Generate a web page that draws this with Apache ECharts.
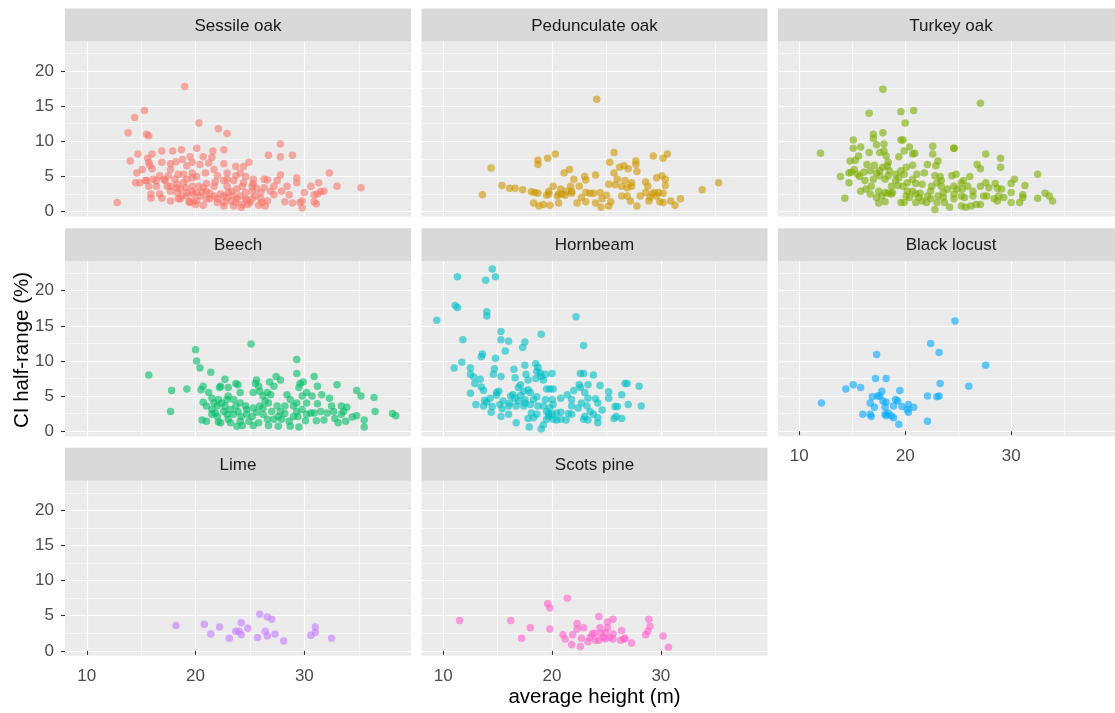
<!DOCTYPE html>
<html>
<head>
<meta charset="utf-8">
<script src="https://cdn.jsdelivr.net/npm/echarts@6/dist/echarts.min.js"></script>
<style>
  html, body { margin: 0; padding: 0; background: #ffffff; }
  #chart { width: 1115px; height: 713px; }
</style>
</head>
<body>
<div id="chart"></div>
<script>
// Average stand height (m) vs. CI half-range (%) per tree species, [height, halfRange]
const sessileOak = [
  [19.0,17.8],[15.3,14.4],[14.4,13.4],[20.3,12.6],[13.8,11.2],[22.1,11.8],[22.9,11.1],[15.5,11.0],[15.7,10.8],
  [27.8,9.6],[26.7,8.0],[27.8,7.8],[28.9,8.0],[32.3,5.5],[33.0,3.6],[35.2,3.4],[12.8,1.3],
  [14.7,8.2],[14.0,7.2],[16.9,8.6],[17.9,8.6],[18.7,8.8],[20.1,9.0],[21.6,8.6],[22.6,8.8],[15.6,7.6],[16.0,8.2],
  [15.7,7.0],[15.8,6.6],[16.0,6.1],[16.9,7.0],[17.7,6.8],[18.2,7.1],[18.8,7.4],[19.5,7.8],[19.7,7.0],[19.2,6.5],
  [20.7,7.8],[21.5,7.7],[20.4,6.7],[21.2,6.9],[22.6,6.8],[23.7,6.4],[24.4,6.4],[24.9,7.0],[15.1,6.0],[14.6,5.5],
  [14.5,4.1],[14.9,4.1],[15.5,4.4],[16.1,4.6],[16.7,5.1],[17.1,4.6],[17.5,5.1],[17.7,6.0],[18.4,5.3],[18.9,5.3],
  [19.7,5.5],[20.1,5.0],[20.9,5.5],[21.7,6.0],[22.9,5.5],[23.7,5.1],[24.1,5.5],[24.6,5.0],[27.8,5.2],[29.3,4.8],
  [27.5,4.4],[26.3,4.6],[25.3,4.0],[24.4,4.1],[23.5,4.4],[22.6,4.4],[21.8,4.2],[21.0,4.0],[20.3,3.6],[19.7,3.6],
  [18.9,4.1],[18.3,3.9],[17.4,3.6],[16.4,3.6],[15.7,3.6],[15.9,2.5],[15.9,1.9],[16.9,1.9],[17.7,1.5],[18.3,2.7],
  [18.7,2.2],[19.2,2.7],[19.8,2.5],[20.4,2.2],[21.0,2.9],[21.7,2.2],[22.3,2.5],[23.0,2.7],[23.8,3.2],[24.6,2.7],
  [25.2,2.9],[26.0,2.7],[26.9,2.9],[27.9,2.9],[28.6,2.4],[29.3,4.1],[28.4,3.6],[30.6,3.6],[31.3,4.1],[27.2,2.4],
  [30.0,2.7],[30.9,2.4],[31.5,2.8],[31.8,2.9],[31.2,2.5],[30.9,1.4],[31.1,1.1],[29.8,1.5],[29.6,1.3],[29.8,0.5],
  [28.9,1.2],[28.2,1.4],[26.4,0.8],[25.8,0.9],[25.0,1.3],[24.3,1.0],[24.2,0.6],[23.5,0.8],[22.6,0.8],[22.0,1.3],
  [20.7,0.9],[20.0,1.0],[19.8,1.5],[19.4,1.4],[18.6,1.8],[21.3,1.8],[26.0,1.8],[25.5,2.2],[23.2,1.5],[23.8,1.8],
  [24.7,1.6],[26.6,1.5],[22.6,2.2],[16.7,2.5],[17.7,2.9],[17.2,4.4],[18.1,4.6],[19.2,4.6],[19.7,4.8],[22.0,5.1],
  [22.9,4.6],[25.3,4.6],[26.6,4.5],[27.2,3.6],[24.3,3.6],[25.2,3.6],[22.9,3.6],[20.1,2.7],[21.0,1.8],[22.0,1.8],
  [18.4,1.8],[19.2,2.2],[19.5,1.3],[20.1,1.5],[15.4,4.4],[16.4,4.4],[17.7,3.6],[18.3,3.4],[18.6,3.2],[19.1,3.4],
  [19.7,2.9],[20.7,3.4],[21.7,3.6],[23.3,2.9],[25.6,3.3],[26.3,3.4],[24.6,1.8],[24.1,2.2],[22.9,2.0],[23.5,2.2],
  [25.2,1.8],[26.1,1.3],[24.8,1.0],[23.7,1.3],[22.6,1.3],[21.3,2.6],[20.6,2.7]
];
const pedunculateOak = [
  [24.1,16.0],[14.4,6.2],[13.6,2.4],[15.4,3.7],[16.1,3.3],[16.6,3.3],[17.3,3.1],[18.7,7.3],[18.7,6.7],[19.6,7.6],
  [20.3,8.2],[21.1,5.5],[21.6,6.0],[22.0,4.6],[23.0,5.0],[23.1,4.5],[24.0,5.2],[22.5,3.6],[21.7,3.6],[20.8,3.2],
  [20.1,3.6],[19.7,2.9],[19.5,2.3],[18.1,2.8],[18.4,2.7],[18.7,2.6],[18.3,1.2],[18.8,0.8],[19.2,1.0],[19.8,0.9],
  [20.6,1.2],[20.5,2.2],[20.9,2.5],[21.3,2.9],[21.8,2.9],[22.3,1.2],[22.7,2.0],[23.1,1.4],[23.1,2.7],[23.5,2.6],
  [23.8,2.6],[24.4,2.7],[24.0,1.2],[24.5,0.6],[24.6,1.8],[25.0,2.3],[25.2,0.8],[25.4,1.4],[25.2,3.9],[25.3,7.0],
  [25.7,8.4],[25.7,5.5],[25.8,3.8],[26.0,4.6],[26.2,6.3],[26.6,6.5],[27.0,6.1],[27.7,7.2],[27.7,6.7],[27.8,5.7],
  [26.7,4.4],[27.3,3.6],[26.9,3.4],[26.4,2.2],[26.9,2.2],[27.2,1.5],[27.8,0.8],[28.1,2.2],[28.6,4.2],[28.8,3.6],
  [28.6,2.7],[28.9,1.5],[29.3,7.9],[30.2,7.6],[30.6,8.2],[29.6,4.8],[30.1,5.1],[30.4,4.6],[30.4,3.7],[29.4,2.7],
  [29.8,2.7],[30.2,2.6],[29.6,2.2],[29.9,1.4],[30.2,1.3],[30.9,1.5],[31.3,0.9],[31.8,1.8],[33.8,3.1],[35.3,4.1],
  [29.2,2.5],[29.0,2.0],[26.4,3.6],[27.3,4.1],[19.7,2.5],[20.6,2.5],[21.2,2.3],[21.8,2.6]
];
const turkeyOak = [
  [17.9,17.4],[27.1,15.4],[16.6,14.0],[19.6,14.2],[20.8,14.4],[20.0,12.6],[12.0,8.3],[17.9,11.2],[17.0,11.0],
  [17.0,10.4],[15.1,10.2],[15.1,9.0],[15.8,9.2],[17.3,9.5],[18.0,9.6],[16.6,8.4],[17.6,8.4],[18.0,8.6],[18.2,7.9],
  [15.6,7.9],[14.8,7.2],[15.3,7.3],[16.4,6.7],[17.1,6.6],[17.9,6.3],[18.4,7.0],[18.3,6.5],[19.4,7.8],[19.6,10.2],
  [19.8,10.2],[19.9,8.6],[20.4,9.2],[20.7,8.2],[20.9,8.3],[22.6,9.3],[22.6,8.2],[23.1,7.2],[22.9,6.5],[22.1,6.7],
  [24.6,9.0],[24.6,9.0],[26.8,6.7],[27.1,6.1],[27.6,8.2],[29.0,7.6],[29.0,6.3],[32.5,5.3],[31.3,3.7],[30.3,4.6],
  [30.0,4.0],[30.0,2.7],[31.1,2.4],[31.1,2.0],[30.8,1.3],[30.0,1.3],[32.5,1.9],[33.2,2.6],[33.6,2.2],[33.9,1.5],
  [13.9,5.0],[14.7,5.5],[14.7,4.1],[14.3,1.9],[15.2,6.0],[15.5,5.3],[15.7,5.0],[16.1,5.6],[16.2,4.4],[16.3,3.2],
  [16.8,3.6],[17.0,4.6],[17.3,5.5],[17.6,5.1],[18.1,4.6],[18.4,5.1],[17.5,2.9],[17.8,2.2],[18.1,2.7],[18.4,2.6],
  [17.3,2.0],[17.5,1.2],[18.1,1.4],[18.7,2.5],[19.1,4.4],[19.4,4.8],[19.9,5.3],[19.6,5.8],[20.1,6.3],[20.7,6.6],
  [19.3,3.7],[19.8,3.6],[20.2,4.1],[20.7,4.6],[21.1,5.3],[21.0,4.0],[21.6,3.9],[21.8,5.5],[20.1,2.2],[20.4,2.0],
  [19.9,1.3],[19.6,1.3],[21.0,2.5],[21.3,2.0],[21.6,1.5],[22.1,2.2],[22.4,2.9],[22.5,3.6],[22.8,5.1],[23.3,5.0],
  [23.0,4.1],[23.4,3.6],[23.6,2.7],[23.1,2.2],[22.8,0.3],[23.0,1.3],[23.7,1.3],[24.2,0.6],[24.4,5.1],[24.8,5.3],
  [24.6,3.6],[24.9,3.2],[24.6,2.5],[25.3,4.1],[25.5,4.4],[25.4,3.2],[25.3,2.2],[25.6,2.0],[25.3,0.8],[25.7,0.6],
  [26.2,0.8],[26.7,1.0],[27.1,1.0],[26.1,5.0],[25.9,3.6],[26.4,2.2],[27.1,3.6],[27.6,4.1],[27.4,2.2],[27.7,2.2],
  [27.9,3.4],[28.5,4.0],[28.7,3.3],[28.8,2.2],[29.1,3.2],[29.3,2.0],[28.7,1.5],[28.4,1.8],[21.0,1.3],[21.4,2.6],
  [20.7,2.9],[20.2,2.9],[18.7,3.6],[16.7,2.5],[15.8,2.9],[14.9,5.6],[23.4,4.4],[24.0,3.2],[26.4,2.9],[24.6,1.8],
  [23.6,2.0],[22.4,1.8],[22.0,1.3],[18.8,2.7],[19.1,5.3],[18.5,5.8],[17.6,5.8],[16.7,5.8]
];
const beech = [
  [25.1,12.4],[20.0,11.6],[20.1,10.0],[20.4,9.0],[21.4,8.4],[29.3,10.2],[29.3,8.2],[15.7,8.0],[17.8,5.8],[19.2,6.0],
  [17.7,2.8],[20.6,1.6],[20.7,6.4],[20.5,5.9],[21.2,5.5],[21.5,4.7],[20.7,4.1],[21.0,3.6],[21.5,3.1],[21.8,2.6],
  [22.0,2.1],[22.1,1.3],[22.3,6.4],[22.2,6.2],[22.7,7.4],[23.0,6.2],[23.7,6.8],[23.9,6.6],[24.1,5.5],[23.5,4.5],
  [23.0,5.0],[22.4,4.0],[22.7,3.6],[23.2,3.1],[23.7,3.6],[24.1,4.0],[24.6,3.6],[23.5,2.4],[23.0,1.7],[23.2,1.2],
  [24.1,1.4],[24.3,0.8],[24.9,1.4],[25.3,0.8],[24.7,2.4],[25.2,2.1],[25.6,2.7],[25.6,7.3],[25.5,6.8],[25.8,6.4],
  [25.3,5.5],[25.9,5.7],[26.2,5.0],[26.6,5.5],[26.4,4.3],[26.7,4.0],[26.9,5.2],[26.8,7.0],[27.2,6.4],[27.4,7.8],
  [27.8,7.3],[25.9,3.6],[26.2,2.4],[26.6,1.7],[26.7,0.8],[27.2,1.7],[27.6,0.7],[27.6,2.1],[27.0,2.8],[27.9,1.7],
  [28.2,2.5],[28.2,3.6],[28.4,5.2],[28.7,4.5],[28.6,1.4],[28.7,0.7],[29.0,3.6],[29.3,4.0],[29.4,2.1],[29.5,0.6],
  [29.5,6.2],[29.6,6.8],[29.9,7.0],[29.8,5.0],[30.2,5.5],[30.2,4.0],[30.1,1.5],[30.7,5.0],[30.9,7.8],[31.2,6.4],
  [30.6,2.6],[31.1,1.5],[31.2,3.9],[31.6,5.2],[31.8,1.6],[32.1,2.6],[32.3,4.7],[32.5,3.6],[33.0,6.6],[32.8,1.8],
  [33.1,1.2],[33.4,3.6],[33.4,2.4],[33.8,1.4],[33.9,3.4],[34.4,2.0],[34.8,5.8],[34.8,2.2],[35.2,5.0],[35.5,1.6],
  [35.5,0.6],[36.4,4.8],[36.5,2.8],[38.1,2.5],[38.4,2.2],[21.5,2.4],[22.0,3.6],[22.6,2.8],[22.9,2.4],[23.9,2.8],
  [24.2,2.1],[24.7,3.1],[25.3,3.3],[27.5,3.6],[27.8,2.8],[29.3,2.8],[29.8,3.1],[30.9,2.6],[31.5,2.8],[32.7,2.8],
  [33.6,2.8],[21.0,1.4],[22.3,1.2],[23.8,0.7],[25.8,1.2],[21.7,4.0],[22.1,4.5],[22.9,4.5],[26.2,3.3],[29.0,2.1],
  [30.2,2.4]
];
const hornbeam = [
  [14.5,23.1],[11.3,22.0],[14.8,22.0],[13.9,21.5],[11.1,17.9],[11.3,17.6],[14.0,17.0],[14.0,16.4],[9.4,15.8],
  [22.2,16.3],[15.3,14.2],[19.0,13.8],[11.8,13.0],[15.3,13.0],[16.0,12.8],[17.5,12.7],[17.3,11.9],[22.9,12.2],
  [15.7,11.4],[13.6,11.0],[13.5,10.6],[14.8,10.4],[11.7,9.8],[11.0,9.0],[12.5,9.0],[14.7,8.9],[12.5,8.1],[12.8,7.7],
  [13.4,7.4],[12.9,6.8],[13.5,6.3],[13.7,5.8],[12.5,5.4],[14.6,8.1],[15.3,7.8],[16.5,8.8],[17.5,9.4],[18.5,9.6],
  [18.7,9.1],[18.6,8.5],[18.9,8.3],[19.0,7.8],[20.0,8.2],[19.4,8.1],[16.6,7.6],[17.6,8.1],[17.8,7.3],[17.1,6.6],
  [16.9,6.2],[17.4,5.7],[17.8,5.9],[18.5,7.5],[19.2,7.3],[19.5,6.0],[19.8,6.0],[20.1,6.0],[15.1,5.7],[14.9,5.1],
  [14.3,4.7],[13.8,4.4],[13.7,3.6],[14.0,4.1],[13.0,3.8],[14.5,3.5],[14.4,2.7],[15.3,2.1],[15.4,3.2],[16.0,2.4],
  [15.5,4.3],[16.1,4.0],[16.4,5.2],[16.6,4.7],[16.9,4.3],[16.7,3.6],[16.2,5.0],[17.1,5.1],[17.5,4.5],[17.4,3.6],
  [18.0,5.5],[18.3,4.5],[18.6,4.9],[18.7,3.6],[18.1,2.6],[17.8,1.8],[18.3,1.9],[16.7,1.2],[17.9,0.6],[19.0,0.3],
  [19.2,0.9],[19.5,1.7],[19.7,2.4],[19.5,2.8],[19.8,3.3],[20.1,3.8],[20.4,2.6],[20.4,1.6],[20.8,4.7],[20.8,2.7],
  [21.3,1.6],[21.5,2.5],[21.4,5.2],[21.8,4.5],[21.8,3.6],[22.0,5.8],[22.5,6.6],[22.6,6.2],[22.6,8.2],[22.9,8.2],
  [23.8,8.0],[23.3,6.6],[23.0,5.5],[22.7,4.0],[23.2,3.6],[23.3,4.7],[24.0,4.6],[24.2,4.0],[23.5,2.8],[23.0,2.1],
  [23.3,1.6],[23.8,2.4],[24.2,1.9],[24.2,1.2],[22.9,1.7],[24.4,6.5],[24.6,3.0],[25.2,5.6],[25.2,4.7],[25.8,3.5],
  [26.0,3.5],[25.9,2.1],[25.7,1.8],[26.4,1.8],[26.4,5.2],[26.7,6.8],[26.9,6.8],[27.0,3.8],[28.0,6.4],[28.2,3.6],
  [19.2,3.6],[19.4,4.5],[20.0,4.5],[16.0,3.6],[15.2,3.8],[21.8,2.4],[20.8,1.7],[17.5,4.0],[18.0,3.8],[18.6,2.4],
  [20.0,2.4],[19.7,2.1],[20.1,1.7],[22.4,3.3],[14.9,5.5]
];
const blackLocust = [
  [12.1,4.0],[14.4,6.0],[15.1,6.6],[15.8,6.2],[16.0,2.4],[16.7,2.4],[16.8,2.1],[16.7,4.0],[16.9,4.9],[17.1,3.4],
  [17.2,7.5],[17.3,10.9],[17.4,5.0],[17.6,5.0],[17.8,5.7],[17.9,4.3],[18.1,3.4],[18.2,4.1],[18.2,7.5],[18.1,2.4],
  [18.2,2.2],[18.4,2.6],[18.7,2.2],[18.9,1.9],[18.9,3.6],[19.1,4.5],[19.3,4.3],[19.4,1.0],[19.5,5.8],[19.7,3.5],
  [20.3,3.8],[20.3,2.7],[20.8,3.4],[20.2,3.1],[22.1,5.0],[22.1,1.4],[22.4,12.5],[23.0,4.9],[23.2,5.0],[23.2,11.2],
  [23.3,6.8],[24.7,15.7],[26.0,6.4],[27.6,9.4]
];
const lime = [
  [18.2,3.6],[20.8,3.8],[21.4,2.4],[22.2,3.4],[23.1,1.8],[23.7,2.8],[24.0,2.8],[24.2,4.0],[24.2,2.3],[24.8,3.2],
  [25.7,1.9],[25.9,5.2],[26.4,2.8],[26.6,4.8],[26.6,2.1],[27.0,4.5],[27.3,2.4],[28.1,1.4],[30.6,2.2],[31.0,3.4],
  [31.0,2.6],[32.5,1.8]
];
const scotsPine = [
  [11.5,4.3],[16.2,4.3],[17.2,1.8],[18.0,3.3],[19.6,6.7],[19.8,6.1],[19.8,3.1],[21.4,7.5],[21.0,2.3],[21.2,1.7],
  [21.8,0.9],[21.9,2.3],[22.3,3.9],[22.3,3.1],[22.6,0.6],[22.7,1.8],[22.9,3.3],[23.3,1.3],[23.5,1.9],[23.7,2.4],
  [23.9,2.5],[24.3,4.9],[24.3,1.5],[24.4,3.3],[24.5,2.5],[24.7,1.9],[24.9,1.7],[24.9,2.6],[25.1,3.3],[25.1,4.1],
  [25.3,1.9],[25.6,4.5],[25.6,2.4],[25.6,1.7],[26.3,1.5],[26.4,2.9],[26.6,1.7],[26.7,1.8],[27.3,1.1],[28.6,2.3],
  [28.8,2.8],[28.9,4.5],[29.0,3.5],[30.2,2.1],[30.7,0.5],[24.0,1.5]
];

const speciesNames = ['Sessile oak', 'Pedunculate oak', 'Turkey oak', 'Beech', 'Hornbeam', 'Black locust', 'Lime', 'Scots pine'];
const speciesData = [sessileOak, pedunculateOak, turkeyOak, beech, hornbeam, blackLocust, lime, scotsPine];
const speciesColors = ['#F8766D', '#CD9600', '#7CAE00', '#00BE67', '#00BFC4', '#00A9FF', '#C77CFF', '#FF61CC'];

const xBreaks = [10, 20, 30];
const xMinorBreaks = [15, 25, 35];
const yBreaks = [0, 5, 10, 15, 20];
const yMinorBreaks = [2.5, 7.5, 12.5, 17.5, 22.5];
const xLimits = [8.0, 39.8];
const yLimits = [-0.71, 24.21];

// facet layout (3 columns, filled row by row)
const NCOL = 3;
const PANEL_LEFT = 65, COL_STEP = 356.5, PANEL_W = 346;
const STRIP_TOP = 8.5, STRIP_H = 33, ROW_STEP = 219.65, PANEL_H = 175;

const chart = echarts.init(document.getElementById('chart'), null, { renderer: 'canvas' });

const grids = [], xAxes = [], yAxes = [], series = [], graphics = [];
const FONT = 'Liberation Sans, Arial, sans-serif';

speciesNames.forEach((name, i) => {
  const col = i % NCOL, row = Math.floor(i / NCOL);
  const left = PANEL_LEFT + col * COL_STEP;
  const stripTop = STRIP_TOP + row * ROW_STEP;
  const top = stripTop + STRIP_H;
  // x labels on the lowest panel of each column
  const showX = (i + NCOL >= speciesNames.length);
  const showY = col === 0;

  grids.push({ left: left, top: top, width: PANEL_W, height: PANEL_H, show: true,
    backgroundColor: '#EBEBEB', borderWidth: 0, containLabel: false });

  const tickStyle = { color: '#333333', width: 1.1 };
  const labelBase = { color: '#4D4D4D', fontSize: 17, fontFamily: FONT };

  // major axes: breaks, labels, major grid lines
  xAxes.push({ gridIndex: i, type: 'value', min: xLimits[0], max: xLimits[1], position: 'bottom',
    axisLine: { show: false },
    axisTick: { show: showX, customValues: xBreaks, length: 4, lineStyle: tickStyle },
    axisLabel: Object.assign({ show: showX, customValues: xBreaks, margin: 12 }, labelBase),
    splitLine: { show: true, lineStyle: { color: '#FFFFFF', width: 1.2 } } });
  yAxes.push({ gridIndex: i, type: 'value', min: yLimits[0], max: yLimits[1], position: 'left',
    axisLine: { show: false },
    axisTick: { show: showY, customValues: yBreaks, length: 4, lineStyle: tickStyle },
    axisLabel: Object.assign({ show: showY, customValues: yBreaks, margin: 11 }, labelBase),
    splitLine: { show: true, lineStyle: { color: '#FFFFFF', width: 1.2 } } });
  // minor axes: only the thinner grid lines
  xAxes.push({ gridIndex: i, type: 'value', min: xLimits[0], max: xLimits[1], position: 'top',
    axisLine: { show: false }, axisTick: { show: false, customValues: xMinorBreaks },
    axisLabel: { show: false, customValues: xMinorBreaks },
    splitLine: { show: true, lineStyle: { color: '#FFFFFF', width: 0.6 } } });
  yAxes.push({ gridIndex: i, type: 'value', min: yLimits[0], max: yLimits[1], position: 'right',
    axisLine: { show: false }, axisTick: { show: false, customValues: yMinorBreaks },
    axisLabel: { show: false, customValues: yMinorBreaks },
    splitLine: { show: true, lineStyle: { color: '#FFFFFF', width: 0.6 } } });

  series.push({ name: name, type: 'scatter', xAxisIndex: 2 * i, yAxisIndex: 2 * i,
    data: speciesData[i], symbol: 'circle', symbolSize: 7.5, z: 5,
    itemStyle: { color: speciesColors[i], opacity: 0.6, borderWidth: 0 },
    emphasis: { disabled: true }, silent: true });

  // facet strip
  graphics.push({ type: 'rect', shape: { x: left, y: stripTop, width: PANEL_W, height: STRIP_H },
    style: { fill: '#D9D9D9' }, silent: true });
  graphics.push({ type: 'text', x: left + PANEL_W / 2, y: stripTop + STRIP_H / 2 + 1,
    style: { text: name, fill: '#1A1A1A', font: '17px ' + FONT, textAlign: 'center', textVerticalAlign: 'middle' },
    silent: true });
});

// axis titles
graphics.push({ type: 'text', x: 594.5, y: 697,
  style: { text: 'average height (m)', fill: '#000000', font: '20.5px ' + FONT, textAlign: 'center', textVerticalAlign: 'middle' } });
graphics.push({ type: 'text', x: 22, y: 350, rotation: Math.PI / 2,
  style: { text: 'CI half-range (%)', fill: '#000000', font: '20.5px ' + FONT, textAlign: 'center', textVerticalAlign: 'middle' } });

chart.setOption({
  animation: false,
  backgroundColor: '#FFFFFF',
  grid: grids,
  xAxis: xAxes,
  yAxis: yAxes,
  series: series,
  graphic: graphics
});
</script>
</body>
</html>
